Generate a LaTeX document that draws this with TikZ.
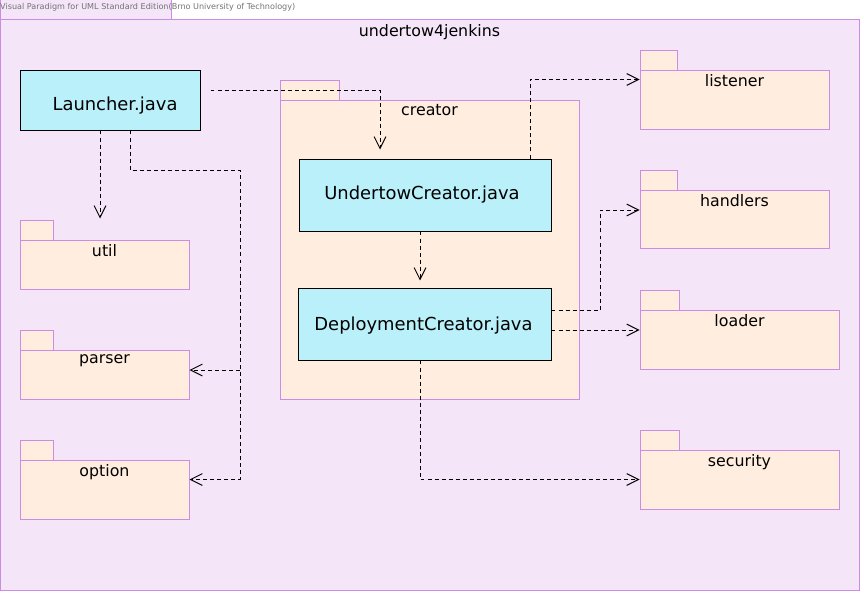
\documentclass[tikz,border=0pt]{standalone}
\usepackage{fontspec}
\setmainfont{DejaVu Sans}
\usetikzlibrary{arrows.meta,calc,fit}
\definecolor{PkgFill}{RGB}{244,230,248}
\definecolor{SubFill}{RGB}{255,238,223}
\definecolor{PkgLine}{RGB}{204,140,230}
\definecolor{ClsFill}{RGB}{186,240,250}
\definecolor{NoteGrey}{RGB}{115,115,115}

\begin{document}
\begin{tikzpicture}[x=0.03cm,y=-0.03cm,
  outerpkg/.style={draw=PkgLine,fill=PkgFill,line width=0.85pt,inner sep=0pt},
  pkg/.style={draw=PkgLine,fill=SubFill,line width=0.85pt,inner sep=0pt},
  cls/.style={draw=black,fill=ClsFill,line width=0.85pt,inner sep=0pt},
  clstext/.style={inner sep=0pt,font=\fontsize{15.3}{18}\selectfont},
  pkglabel/.style={anchor=north,inner sep=1pt,yshift=-2.8pt,font=\fontsize{13.5}{16}\selectfont},
  dep/.style={line width=0.85pt,dash pattern=on 3.4pt off 2.6pt,-{Straight Barb[length=10pt,width=10pt]}}]
\useasboundingbox (0,0) rectangle (864,594);

% header tab and outer package
\node[outerpkg,fit={(0,0) (171,20)}] (headtab) {};
\node[outerpkg,fit={(0,20) (859,590)}] (outer) {};
\node[anchor=west,inner sep=0pt,text=NoteGrey,font=\fontsize{6.9}{8}\selectfont] (head) at (0,7) {Visual Paradigm for UML Standard Edition(Brno University of Technology)};
\node[pkglabel] (outerlbl) at (outer.north) {undertow4jenkins};

% left packages
\node[pkg,fit={(20,220) (53,240)}] (utiltab) {};
\node[pkg,fit={(20,240) (189,289)}] (util) {};
\node[pkglabel] (utillbl) at (util.north) {util};

\node[pkg,fit={(20,330) (53,350)}] (parsertab) {};
\node[pkg,fit={(20,350) (189,399)}] (parser) {};
\node[pkglabel] (parserlbl) at (parser.north) {parser};

\node[pkg,fit={(20,440) (53,460)}] (optiontab) {};
\node[pkg,fit={(20,460) (189,519)}] (option) {};
\node[pkglabel] (optionlbl) at (option.north) {option};

% creator package
\node[pkg,fit={(280,80) (339,100)}] (creatortab) {};
\node[pkg,fit={(280,100) (579,399)}] (creator) {};
\node[pkglabel] (creatorlbl) at (creator.north) {creator};

% right packages
\node[pkg,fit={(640,50) (677,70)}] (listenertab) {};
\node[pkg,fit={(640,70) (829,129)}] (listener) {};
\node[pkglabel] (listenerlbl) at (listener.north) {listener};

\node[pkg,fit={(640,170) (677,190)}] (handlerstab) {};
\node[pkg,fit={(640,190) (829,248)}] (handlers) {};
\node[pkglabel] (handlerslbl) at (handlers.north) {handlers};

\node[pkg,fit={(640,290) (679,310)}] (loadertab) {};
\node[pkg,fit={(640,310) (839,369)}] (loader) {};
\node[pkglabel] (loaderlbl) at (loader.north) {loader};

\node[pkg,fit={(640,430) (679,450)}] (securitytab) {};
\node[pkg,fit={(640,450) (839,509)}] (security) {};
\node[pkglabel] (securitylbl) at (security.north) {security};

% classes
\node[cls,fit={(20,70) (200,130)}] (launcher) {};
\node[clstext] (launchertxt) at ($(launcher.center)+(5,6)$) {Launcher.java};
\node[cls,fit={(299,159) (551,231)}] (undertow) {};
\node[clstext] (undertowtxt) at ($(undertow.center)+(-3,0)$) {UndertowCreator.java};
\node[cls,fit={(298,288) (551,360)}] (deploy) {};
\node[clstext] (deploytxt) at ($(deploy.center)+(-1,2)$) {DeploymentCreator.java};

% dependencies
\coordinate (lbus) at (240,170);
\draw[dep] ($(launcher.east)+(10,-10)$) -| ($(undertow.north)+(-45,-9)$);
\draw[dep] ($(launcher.south)+(-10,0)$) -- ++(0,88);
\draw[dep] ($(launcher.south)+(20,0)$) |- (lbus) |- ($(option.east)+(0,-10)$);
\draw[dep] ($(lbus|-parser.east)+(0,-4.5)$) -- ($(parser.east)+(0,-4.5)$);

\draw[dep] ($(undertow.north)+(105,0)$) |- ($(listener.west)+(0,-20)$);
\draw[dep] ($(undertow.south)+(-5,0)$) -- ++(0,49);

\draw[dep] ($(deploy.east)+(0,-14)$) -- ++(49,0) |- ($(handlers.west)+(0,-9)$);
\draw[dep] ($(deploy.east)+(0,6)$) -- ($(loader.west)+(0,-9.5)$);
\draw[dep] ($(deploy.south)+(-4.5,0)$) |- (security.west);

\end{tikzpicture}
\end{document}
